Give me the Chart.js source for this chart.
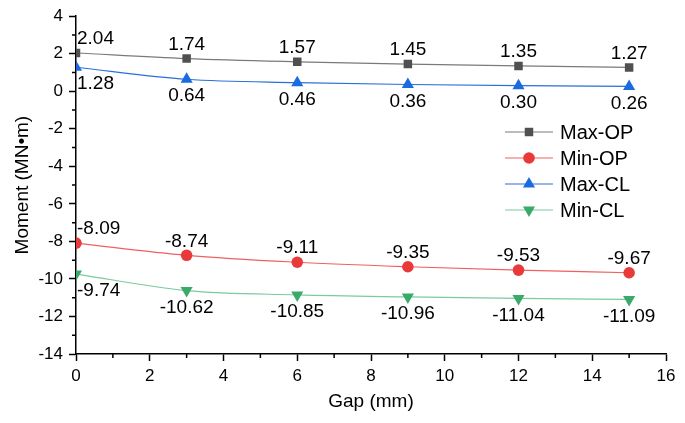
<!DOCTYPE html>
<html lang="en">
<head>
<meta charset="UTF-8" />
<title>Moment vs Gap</title>
<script src="https://cdn.jsdelivr.net/npm/chart.js"></script>
<style>
  html, body { margin: 0; padding: 0; background: #fff; }
  #wrap { width: 685px; height: 423px; }
</style>
</head>
<body>
<div id="wrap"><canvas id="chart" width="685" height="423"></canvas></div>
<script>
// gap values (mm)
const gaps = [0, 3, 6, 9, 12, 15];
const maxOP = [2.04, 1.74, 1.57, 1.45, 1.35, 1.27];
const minOP = [-8.09, -8.74, -9.11, -9.35, -9.53, -9.67];
const maxCL = [1.28, 0.64, 0.46, 0.36, 0.30, 0.26];
const minCL = [-9.74, -10.62, -10.85, -10.96, -11.04, -11.09];

const FONT = "'Liberation Sans', Arial, sans-serif";

function pts(vals) {
    return gaps.map((g, i) => ({ x: g, y: vals[i] }));
}

function series(label, vals, line, marker, style, rot, radius, labelPos) {
    return {
        label,
        data: pts(vals),
        borderColor: line,
        backgroundColor: marker,
        pointBackgroundColor: marker,
        pointBorderColor: marker,
        pointStyle: style,
        pointRotation: rot,
        pointRadius: radius,
        pointBorderWidth: 0,
        borderWidth: 1.2,
        cubicInterpolationMode: 'monotone',
        labelPos
    };
}

// labels above / below each point
const labelPlugin = {
    id: 'pointLabels',
    afterDatasetsDraw(chart) {
        const ctx = chart.ctx;
        ctx.save();
        ctx.font = '19px ' + FONT;
        ctx.fillStyle = '#000';
        ctx.textBaseline = 'middle';
        chart.data.datasets.forEach((ds, di) => {
            const meta = chart.getDatasetMeta(di);
            meta.data.forEach((p, i) => {
                const txt = ds.data[i].y.toFixed(2);
                const dy = ds.labelPos === 'above' ? -14 : 17;
                if (i === 0) {
                    ctx.textAlign = 'left';
                    ctx.fillText(txt, p.x + 1, p.y + dy);
                } else {
                    ctx.textAlign = 'center';
                    ctx.fillText(txt, p.x, p.y + dy);
                }
            });
        });
        ctx.restore();
    }
};

// minor ticks on both axes
const minorTicks = {
    id: 'minorTicks',
    afterDraw(chart) {
        const ctx = chart.ctx;
        const xs = chart.scales.x, ys = chart.scales.y;
        ctx.save();
        ctx.strokeStyle = '#000';
        ctx.lineWidth = 1.5;
        ctx.beginPath();
        for (let v = 1; v < 16; v += 2) {
            const x = xs.getPixelForValue(v);
            ctx.moveTo(x, ys.bottom);
            ctx.lineTo(x, ys.bottom + 4);
        }
        for (let v = -13; v < 4; v += 2) {
            const y = ys.getPixelForValue(v);
            ctx.moveTo(xs.left, y);
            ctx.lineTo(xs.left - 4, y);
        }
        ctx.stroke();
        ctx.restore();
    }
};

// legend drawn inside the plot
const innerLegend = {
    id: 'innerLegend',
    afterDraw(chart) {
        const ctx = chart.ctx;
        ctx.save();
        ctx.font = '20px ' + FONT;
        ctx.textBaseline = 'middle';
        ctx.textAlign = 'left';
        const x0 = 505, y0 = 132, step = 26;
        chart.data.datasets.forEach((ds, i) => {
            const y = y0 + i * step;
            ctx.strokeStyle = ds.borderColor;
            ctx.lineWidth = 1.2;
            ctx.beginPath();
            ctx.moveTo(x0, y);
            ctx.lineTo(x0 + 48, y);
            ctx.stroke();
            ctx.fillStyle = ds.pointBackgroundColor;
            ctx.strokeStyle = ds.pointBackgroundColor;
            Chart.helpers.drawPoint(ctx, {
                pointStyle: ds.pointStyle,
                rotation: ds.pointRotation,
                radius: ds.pointRadius,
                borderWidth: 0
            }, x0 + 24, y);
            ctx.fillStyle = '#000';
            ctx.fillText(ds.label, x0 + 55, y + 1);
        });
        ctx.restore();
    }
};

new Chart(document.getElementById('chart'), {
    type: 'line',
    data: {
        datasets: [
            series('Max-OP', maxOP, '#7a7a7a', '#505050', 'rect', 0, 6, 'above'),
            series('Min-OP', minOP, '#f06060', '#e83a3a', 'circle', 0, 5.8, 'above'),
            series('Max-CL', maxCL, '#2a6fd6', '#1a6be0', 'triangle', 0, 7, 'below'),
            series('Min-CL', minCL, '#7ccaa0', '#3aaa6a', 'triangle', 180, 7, 'below')
        ]
    },
    options: {
        responsive: false,
        animation: false,
        layout: { padding: { top: 16, right: 19, left: 0, bottom: 0 } },
        plugins: {
            legend: { display: false },
            tooltip: { enabled: false }
        },
        scales: {
            x: {
                type: 'linear',
                min: 0,
                max: 16,
                ticks: { stepSize: 2, color: '#000', font: { size: 17, family: FONT }, padding: 5, maxRotation: 0 },
                grid: { drawOnChartArea: false, tickLength: 7, tickColor: '#000', tickWidth: 1.5 },
                border: { color: '#000', width: 1.5 },
                title: { display: true, text: 'Gap (mm)', color: '#000', font: { size: 19, family: FONT }, padding: { top: 0, bottom: 10 } },
                afterFit(s) { s.height = 69; }
            },
            y: {
                min: -14,
                max: 4,
                ticks: { stepSize: 2, color: '#000', font: { size: 17, family: FONT }, padding: 6 },
                grid: { drawOnChartArea: false, tickLength: 7, tickColor: '#000', tickWidth: 1.5 },
                border: { color: '#000', width: 1.5 },
                title: { display: true, text: 'Moment (MN•m)', color: '#000', font: { size: 19, family: FONT }, padding: { top: 11, bottom: 0 } },
                afterFit(s) { s.width = 76; }
            }
        }
    },
    plugins: [labelPlugin, minorTicks, innerLegend]
});
</script>
</body>
</html>
